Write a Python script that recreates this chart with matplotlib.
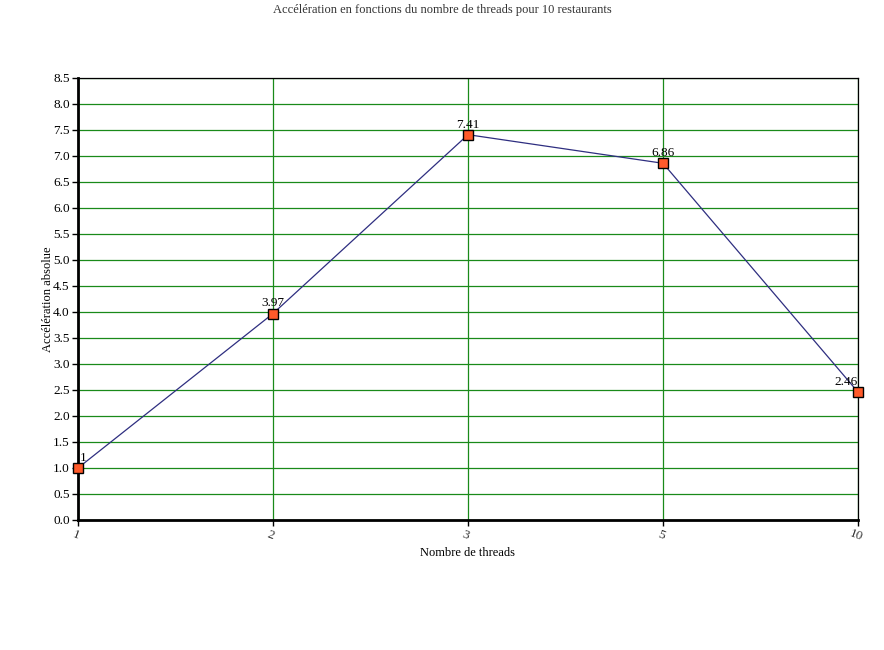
import matplotlib.pyplot as plt

plt.rcParams["font.family"] = ["Liberation Serif", "DejaVu Serif"]

threads = ["1", "2", "3", "5", "10"]
speedup = [1.0, 3.97, 7.41, 6.86, 2.46]
point_labels = ["1", "3.97", "7.41", "6.86", "2.46"]

fig = plt.figure(figsize=(8.84, 6.5), dpi=100)
ax = fig.add_axes([78 / 884, 1 - 520 / 650, 780 / 884, 442 / 650])

x = list(range(len(threads)))
ax.plot(x, speedup, color="#2e2e80", lw=0.9, zorder=3)
ax.plot(x, speedup, ls="none", marker="s", ms=6.5, mfc="#ff5a2a",
        mec="black", mew=1, zorder=4, clip_on=False)
# keep the end labels inside the plot area
for i, (xi, yi, lab) in enumerate(zip(x, speedup, point_labels)):
    ha = "center"
    if i == 0:
        ha = "left"
    elif i == len(x) - 1:
        ha = "right"
    ax.annotate(lab, (xi, yi), xytext=(1 if i == 0 else 0, 3),
                textcoords="offset points", ha=ha, va="bottom", fontsize=9.5)

ax.set_xlim(0, len(threads) - 1)
ax.set_ylim(0, 8.5)
ax.set_xticks(x)
ax.set_xticklabels(threads, rotation=-20, ha="center", fontsize=9.5,
                   color="#333333", rotation_mode="anchor", va="top")
ax.set_yticks([i * 0.5 for i in range(18)])
ax.set_yticklabels([f"{i * 0.5:.1f}" for i in range(18)], fontsize=9.5)
ax.grid(True, color="#1a8a1a", lw=0.9)
ax.set_axisbelow(True)

for s in ["top", "right"]:
    ax.spines[s].set_linewidth(0.9)
for s in ["left", "bottom"]:
    ax.spines[s].set_linewidth(2)
ax.tick_params(axis="y", length=4, width=1, pad=2)
ax.tick_params(axis="x", length=4, width=1, pad=3)

ax.set_xlabel("Nombre de threads", fontsize=9, labelpad=3)
ax.set_ylabel("Accélération absolue", fontsize=9, labelpad=-1)
fig.text(0.5, 1 - 10 / 650, "Accélération en fonctions du nombre de threads pour 10 restaurants",
         ha="center", va="center", fontsize=9, color="#333333")

fig.savefig("out.png", dpi=100)
